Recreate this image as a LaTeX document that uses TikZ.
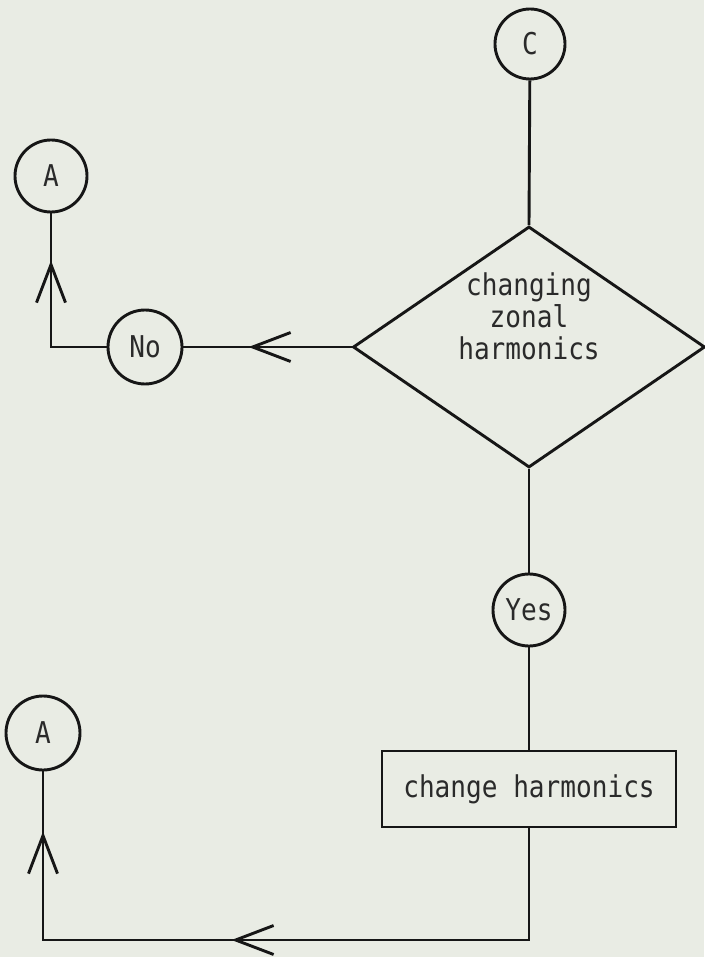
\documentclass[tikz,border=0pt]{standalone}
\usepackage{fontspec}
\newfontfamily\tw[FakeStretch=0.87]{DejaVu Sans Mono}
\usetikzlibrary{shapes.geometric,arrows.meta,decorations.markings}
\definecolor{paper}{HTML}{E9ECE4}
\definecolor{ink}{HTML}{161616}
\definecolor{typeink}{HTML}{2A2A2A}
\begin{document}
\begin{tikzpicture}[x=1pt,y=-1pt,
  line width=2.9pt,
  wire/.style={draw=ink,line width=2.9pt},
  lbl/.style={font=\tw\fontsize{30}{32}\selectfont,text=typeink},
  conn/.style={circle,draw=ink,line width=2.9pt,inner sep=0pt,lbl},
  decision/.style={diamond,draw=ink,line width=2.9pt,minimum width=352pt,minimum height=241pt,inner sep=0pt},
  procbox/.style={rectangle,draw=ink,line width=2.9pt,minimum width=294pt,minimum height=76pt,lbl},
  arrowmid/.style={postaction={decorate,decoration={markings,
      mark=at position #1 with {\arrow[ink]{Straight Barb[length=38pt,width=29pt]}}}}}
]
% page
\fill[paper] (0,0) rectangle (704,957);
\useasboundingbox (0,0) rectangle (704,957);

% nodes
\node[conn,minimum size=70pt] (c) at (530,44) {C};
\node[decision,label={[lbl,align=center,yshift=31pt]center:changing\\zonal\\harmonics}] (dia) at (529,347) {};
\node[conn,minimum size=74pt] (no) at (145,347) {No};
\node[conn,minimum size=72pt] (atop) at (51,176) {A};
\node[conn,minimum size=72pt] (yes) at (529,610) {Yes};
\node[procbox] (box) at (529,789) {change harmonics};
\node[conn,minimum size=74pt] (abot) at (43,733) {A};
\coordinate (corner) at (529,940);

% connectors
\draw[wire] (c) -- (dia.north);
\draw[wire,arrowmid=103pt] (dia.west) -- (no);
\draw[wire,arrowmid=142pt] (no.west) -| (atop);
\draw[wire] (dia.south) -- (yes);
\draw[wire] (yes) -- (box);
\draw[wire,arrowmid=409pt,arrowmid=706pt] (box.south) -- (corner) -| (abot);
\end{tikzpicture}
\end{document}
